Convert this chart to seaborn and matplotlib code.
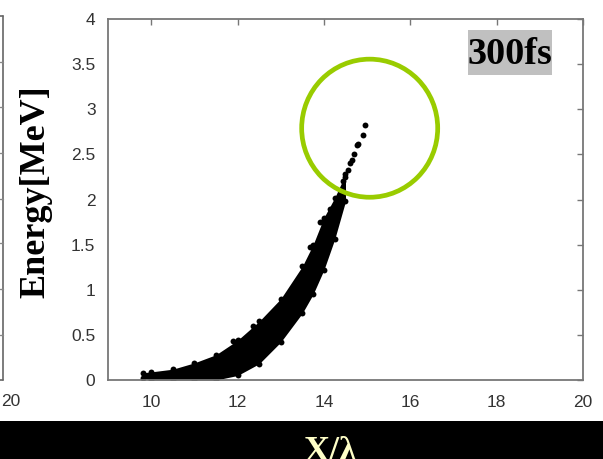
import numpy as np
import pandas as pd
import matplotlib
matplotlib.use("Agg")
import matplotlib.pyplot as plt
from matplotlib.patches import Ellipse, Rectangle
from matplotlib.lines import Line2D
import seaborn as sns

# ---- data ----
band_x     = [9.8, 10.0, 10.5, 11.0, 11.5, 12.0, 12.5, 13.0, 13.5, 13.75, 14.0, 14.25, 14.5]
band_upper = [0.08, 0.09, 0.12, 0.19, 0.28, 0.44, 0.65, 0.90, 1.26, 1.50, 1.80, 2.02, 2.28]
band_lower = [0.02, 0.00, 0.00, 0.00, 0.00, 0.05, 0.18, 0.42, 0.74, 0.95, 1.22, 1.56, 1.98]
stray_x = [13.68, 13.95, 14.14, 14.37, 13.91, 12.36, 11.9]
stray_y = [1.47, 1.75, 1.90, 2.03, 1.75, 0.60, 0.43]
tip_x = [14.45, 14.50, 14.56, 14.60, 14.65, 14.70, 14.76, 14.80, 14.90, 14.95]
tip_y = [2.20, 2.25, 2.33, 2.40, 2.44, 2.50, 2.60, 2.62, 2.71, 2.82]
xticks = [10, 12, 14, 16, 18, 20]
yticks = [0, 0.5, 1, 1.5, 2, 2.5, 3, 3.5, 4]
ytick_labels = ["0", "0.5", "1", "1.5", "2", "2.5", "3", "3.5", "4"]
time_label = "300fs"

sns.set_theme(style="white")
plt.rcParams["font.family"] = ["Liberation Sans", "DejaVu Sans"]

W, H = 603, 459
fig = plt.figure(figsize=(W / 100, H / 100), dpi=100)
ax = fig.add_axes([108 / W, (H - 380) / H, 475 / W, 361 / H])

ax.fill_between(band_x, band_lower, band_upper, color="black", linewidth=0)
pts = pd.DataFrame({
    "x": band_x + band_x + stray_x + tip_x,
    "y": band_upper + band_lower + stray_y + tip_y,
})
sns.scatterplot(data=pts, x="x", y="y", color="black", s=18, linewidth=0, ax=ax)

ax.set_xlim(9, 20)
ax.set_ylim(0, 4)
ax.set_xticks(xticks)
ax.set_xticklabels([str(t) for t in xticks])
ax.set_yticks(yticks)
ax.set_yticklabels(ytick_labels)
ax.set_xlabel("")
ax.set_ylabel("")
ax.tick_params(direction="in", length=4, width=1, color="#777777",
               labelsize=12.5, labelcolor="#333333", top=True, right=True,
               labeltop=False, labelright=False)
ax.tick_params(axis="x", pad=11)
ax.tick_params(axis="y", pad=9)
for sp in ax.spines.values():
    sp.set_color("#777777")
    sp.set_linewidth(1.3)

# green highlight circle
ax.add_patch(Ellipse((15.06, 2.79), 3.15, 1.53, fill=False,
                     edgecolor="#99cc00", linewidth=3.4))

# time label with grey box
fig.patches.append(Rectangle((468 / W, 1 - 75 / H), 84 / W, 45 / H,
                             transform=fig.transFigure, facecolor="#c0c0c0",
                             edgecolor="none", zorder=2))
fig.text(510 / W, 1 - 54 / H, time_label, ha="center", va="center",
         fontsize=27.5, fontweight="bold", family=["Liberation Serif"],
         color="black", zorder=3)

# y label
fig.text(36 / W, 1 - 192 / H, "Energy[MeV]", rotation=90, ha="center", va="center",
         fontsize=26, fontweight="bold", family=["Liberation Serif"], color="black")

# black bar at bottom with x label
fig.patches.append(Rectangle((0, 0), 1, (H - 421) / H, transform=fig.transFigure,
                             facecolor="black", edgecolor="none", zorder=0))
fig.text(303 / W, -0.004, "X/λ", ha="left", va="baseline",
         fontsize=26, fontweight="bold", family=["Liberation Serif", "DejaVu Serif"],
         color="#ffffc8")

# fragment of neighbouring panel at the left edge
fx = 3.5 / W
fig.lines.append(Line2D([fx, fx], [1 - 16 / H, 1 - 380 / H], transform=fig.transFigure,
                        color="#666666", linewidth=1.2))
fig.lines.append(Line2D([0, fx], [1 - 380 / H, 1 - 380 / H], transform=fig.transFigure,
                        color="#666666", linewidth=1.2))
fig.lines.append(Line2D([0, fx], [1 - 16 / H, 1 - 16 / H], transform=fig.transFigure,
                        color="#666666", linewidth=1.2))
for ty in [62, 107, 153, 199, 243, 289, 335]:
    fig.lines.append(Line2D([0, fx], [1 - ty / H, 1 - ty / H], transform=fig.transFigure,
                            color="#888888", linewidth=1))
fig.text(1 / W, 1 - 401 / H, "20", ha="left", va="center", fontsize=12.5, color="#333333")

fig.savefig("out.png", dpi=100)
